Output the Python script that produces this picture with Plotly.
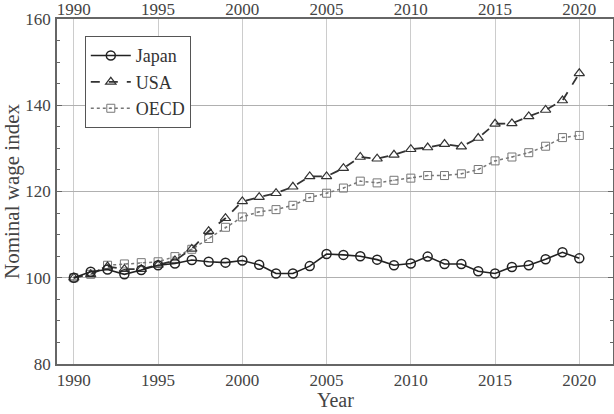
import plotly.graph_objects as go

years = list(range(1990, 2021))

japan = [100.0, 101.4, 101.9, 100.8, 101.8, 102.9, 103.3, 104.1, 103.7, 103.5,
         104.0, 103.0, 101.0, 101.0, 102.7, 105.5, 105.3, 105.0, 104.2, 102.9,
         103.3, 104.9, 103.2, 103.2, 101.5, 101.0, 102.5, 102.9, 104.3, 105.9,
         104.5]

usa = [100.0, 100.8, 102.6, 102.0, 102.0, 103.0, 104.0, 106.7, 110.8, 113.8,
       117.7, 118.7, 119.6, 121.1, 123.5, 123.5, 125.4, 128.0, 127.6, 128.5,
       129.8, 130.2, 131.0, 130.4, 132.4, 135.7, 135.8, 137.4, 138.9, 141.1,
       147.4]

oecd = [100.0, 100.8, 102.9, 103.2, 103.5, 103.7, 104.9, 106.6, 109.1, 111.7,
        114.1, 115.3, 115.8, 116.8, 118.6, 119.6, 120.8, 122.4, 122.0, 122.6,
        123.1, 123.7, 123.7, 124.1, 125.1, 127.1, 128.0, 129.0, 130.5, 132.5,
        133.0]

font_family = "Liberation Serif, Times New Roman, Times, serif"
text_color = "#444444"

fig = go.Figure()

fig.add_trace(go.Scatter(
    x=years, y=oecd, name="OECD", mode="lines+markers",
    line=dict(color="#777777", width=1.5, dash="dot"),
    marker=dict(symbol="square-open-dot", size=8, color="#777777",
                line=dict(width=1, color="#777777")),
))
fig.add_trace(go.Scatter(
    x=years, y=usa, name="USA", mode="lines+markers",
    line=dict(color="#333333", width=1.8, dash="dash"),
    marker=dict(symbol="triangle-up-open", size=9, color="#333333",
                line=dict(width=1.2, color="#333333")),
))
fig.add_trace(go.Scatter(
    x=years, y=japan, name="Japan", mode="lines+markers",
    line=dict(color="#222222", width=1.6),
    marker=dict(symbol="circle-open", size=9, color="#222222",
                line=dict(width=1.5, color="#222222")),
))

# top axis copy for the upper tick labels
fig.add_trace(go.Scatter(x=[1990], y=[None], xaxis="x2", showlegend=False,
                         hoverinfo="skip"))

axis_common = dict(
    range=[1989, 2022], tickmode="array", tickvals=list(range(1990, 2021, 5)),
    tickfont=dict(family=font_family, size=17, color=text_color),
    automargin=False,
)

fig.update_layout(
    width=614, height=414,
    margin=dict(l=57, r=1, t=19, b=50),
    paper_bgcolor="white", plot_bgcolor="white",
    font=dict(family=font_family, color=text_color),
    xaxis=dict(
        **axis_common,
        showgrid=True, gridcolor="#cccccc", gridwidth=1,
        showline=True, linecolor="#666666", linewidth=1.5, mirror=True,
        ticks="", zeroline=False,
    ),
    xaxis2=dict(
        **axis_common,
        overlaying="x", side="top", showgrid=False, showline=False,
        ticks="", zeroline=False,
    ),
    yaxis=dict(
        range=[80, 160], tickmode="array", tickvals=[80, 100, 120, 140, 160],
        tickfont=dict(family=font_family, size=17, color=text_color),
        showgrid=True, gridcolor="#b0b0b0", gridwidth=1,
        showline=True, linecolor="#666666", linewidth=1.5, mirror="ticks",
        ticks="inside", ticklen=5, tickcolor="#666666",
        minor=dict(dtick=5, ticks="inside", ticklen=3, tickcolor="#666666",
                   showgrid=False),
        zeroline=False, ticklabelstandoff=1, automargin=False,
        title=dict(text="Nominal wage index",
                   font=dict(family=font_family, size=21, color=text_color),
                   standoff=4),
    ),
    legend=dict(
        x=0.05, y=0.95, xanchor="left", yanchor="top",
        bgcolor="white", bordercolor="#555555", borderwidth=1,
        font=dict(family=font_family, size=18, color="#333333"),
        traceorder="reversed", itemwidth=40, tracegroupgap=0,
    ),
    showlegend=True,
)

# x title as annotation, bottom of its box on the page edge
fig.add_annotation(
    text="Year", xref="paper", yref="paper", x=0.5, y=-0.142,
    xanchor="center", yanchor="bottom", showarrow=False,
    font=dict(family=font_family, size=20, color=text_color),
)

# drop the default body margin so the figure fills the window
fig.write_html("out.html", config={"displayModeBar": False},
               post_script="document.body.style.margin='0';")
